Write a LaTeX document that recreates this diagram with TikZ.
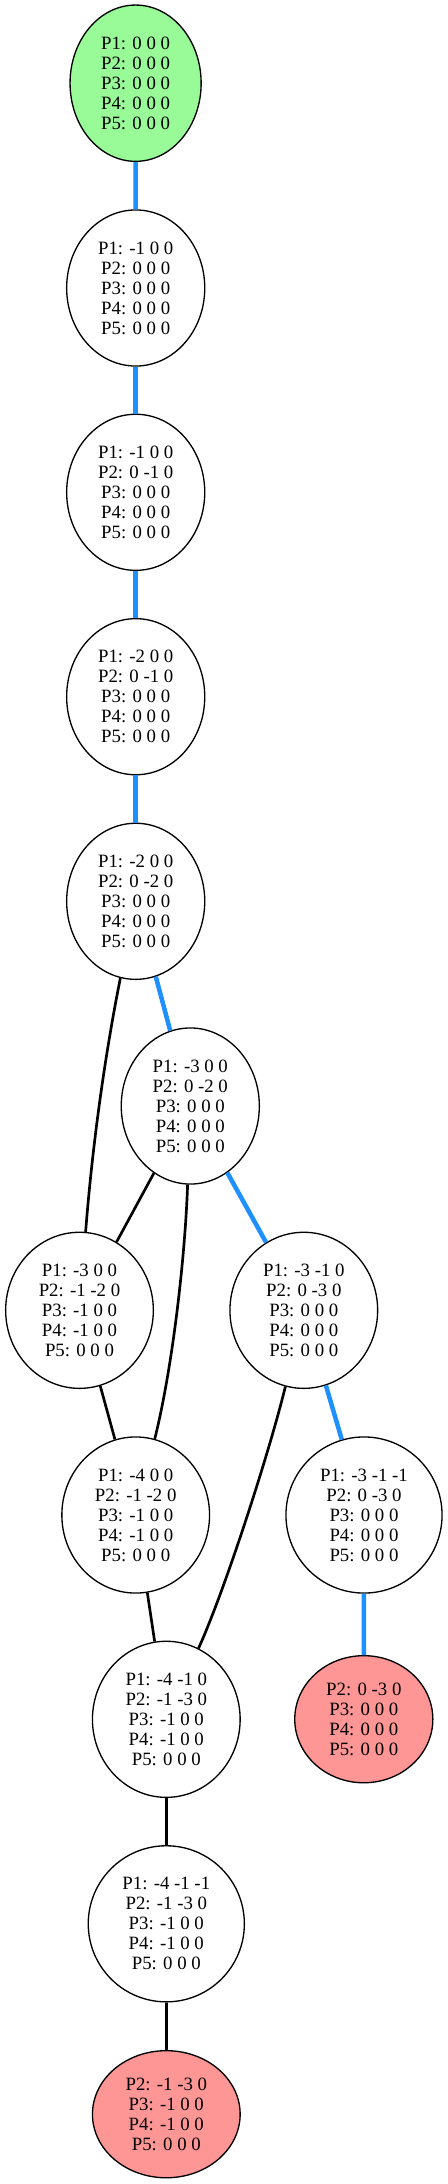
\documentclass[tikz,border=0pt]{standalone}
\usepackage{fontspec}
\setmainfont{Liberation Serif}
\usetikzlibrary{shapes.geometric}
\definecolor{edgeblue}{RGB}{30,144,255}
\definecolor{startgreen}{RGB}{152,251,152}
\definecolor{endpink}{RGB}{255,150,150}
\tikzset{
  st/.style={ellipse, draw=black, line width=1.33pt, inner sep=0pt, align=center,
    font={\fontsize{18.8pt}{20pt}\selectfont}},
  wA/.style={minimum width=138.1pt, minimum height=156.1pt},
  wB/.style={minimum width=147.7pt, minimum height=156.1pt},
  wC/.style={minimum width=156.1pt, minimum height=156.1pt},
  good/.style={fill=startgreen, minimum width=131.1pt, minimum height=156.3pt},
  bad/.style={fill=endpink, minimum height=127.1pt},
  blueedge/.style={draw=edgeblue, line width=4.5pt},
  blackedge/.style={draw=black, line width=2.67pt},
}
\begin{document}
\begin{tikzpicture}[x=1pt,y=-1pt]
\useasboundingbox (0,0) rectangle (447,2184);
\node[st,good] (n0) at (135.6,83.2) {P1: 0 0 0\\P2: 0 0 0\\P3: 0 0 0\\P4: 0 0 0\\P5: 0 0 0};
\node[st,wA] (n1) at (135.7,288) {P1: -1 0 0\\P2: 0 0 0\\P3: 0 0 0\\P4: 0 0 0\\P5: 0 0 0};
\node[st,wA] (n2) at (135.7,492.3) {P1: -1 0 0\\P2: 0 -1 0\\P3: 0 0 0\\P4: 0 0 0\\P5: 0 0 0};
\node[st,wA] (n3) at (135.7,696.7) {P1: -2 0 0\\P2: 0 -1 0\\P3: 0 0 0\\P4: 0 0 0\\P5: 0 0 0};
\node[st,wA] (n4) at (135.7,901.3) {P1: -2 0 0\\P2: 0 -2 0\\P3: 0 0 0\\P4: 0 0 0\\P5: 0 0 0};
\node[st,wA] (n5) at (190.3,1106) {P1: -3 0 0\\P2: 0 -2 0\\P3: 0 0 0\\P4: 0 0 0\\P5: 0 0 0};
\node[st,wB] (n6) at (79.5,1310.3) {P1: -3 0 0\\P2: -1 -2 0\\P3: -1 0 0\\P4: -1 0 0\\P5: 0 0 0};
\node[st,wB] (n7) at (303.8,1310.3) {P1: -3 -1 0\\P2: 0 -3 0\\P3: 0 0 0\\P4: 0 0 0\\P5: 0 0 0};
\node[st,wB] (n8) at (135.7,1515) {P1: -4 0 0\\P2: -1 -2 0\\P3: -1 0 0\\P4: -1 0 0\\P5: 0 0 0};
\node[st,wC] (n9) at (364,1515) {P1: -3 -1 -1\\P2: 0 -3 0\\P3: 0 0 0\\P4: 0 0 0\\P5: 0 0 0};
\node[st,wB] (n10) at (166.3,1719.3) {P1: -4 -1 0\\P2: -1 -3 0\\P3: -1 0 0\\P4: -1 0 0\\P5: 0 0 0};
\node[st,wA,bad] (n11) at (363.8,1719.2) {P2: 0 -3 0\\P3: 0 0 0\\P4: 0 0 0\\P5: 0 0 0};
\node[st,wC] (n12) at (166.3,1923.8) {P1: -4 -1 -1\\P2: -1 -3 0\\P3: -1 0 0\\P4: -1 0 0\\P5: 0 0 0};
\node[st,wB,bad] (n13) at (166.3,2114.2) {P2: -1 -3 0\\P3: -1 0 0\\P4: -1 0 0\\P5: 0 0 0};
% blue edges
\draw[blueedge] (n0) -- (n1);
\draw[blueedge] (n1) -- (n2);
\draw[blueedge] (n2) -- (n3);
\draw[blueedge] (n3) -- (n4);
\draw[blueedge] (n4) -- (n5);
\draw[blueedge] (n5) -- (n7);
\draw[blueedge] (n7) -- (n9);
\draw[blueedge] (n9) -- (n11);
% black edges
\draw[blackedge] (n4) .. controls (104,1060) and (92,1150) .. (n6);
\draw[blackedge] (n5) -- (n6);
\draw[blackedge] (n5) .. controls (185,1260) and (172,1370) .. (n8);
\draw[blackedge] (n6) -- (n8);
\draw[blackedge] (n7) .. controls (270,1450) and (225,1590) .. (n10);
\draw[blackedge] (n8) -- (n10);
\draw[blackedge] (n10) -- (n12);
\draw[blackedge] (n12) -- (n13);
\end{tikzpicture}
\end{document}
